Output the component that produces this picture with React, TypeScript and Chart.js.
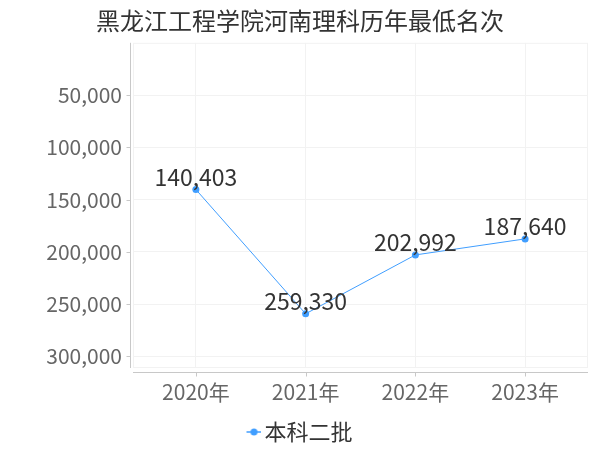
import React, { useEffect, useRef } from 'react';
import { Chart, registerables } from 'chart.js';

Chart.register(...registerables);

const title = '黑龙江工程学院河南理科历年最低名次';
const years = ['2020年', '2021年', '2022年', '2023年'];
const seriesName = '本科二批';
const ranks = [140403, 259330, 202992, 187640];
const yTicks = [50000, 100000, 150000, 200000, 250000, 300000];

const FONT = '"Noto Sans CJK SC", "Noto Sans", sans-serif';
const LINE = '#409eff';
const AXIS = '#c8c8c8';
const GRID = '#f2f2f2';

const fmt = (v: number) => v.toLocaleString('en-US');

// axis lines sit a few px off the plot area, ticks drawn by hand
const axesPlugin = {
  id: 'offsetAxes',
  beforeDatasetsDraw(chart: any) {
    const { ctx, chartArea: a, scales } = chart;
    ctx.save();
    ctx.strokeStyle = GRID;
    ctx.lineWidth = 1;
    ctx.strokeRect(a.left + 0.5, a.top + 0.5, a.right - a.left - 1, a.bottom - a.top - 1);
    ctx.strokeStyle = AXIS;
    ctx.beginPath();
    const yx = Math.round(a.left - 3) + 0.5;
    ctx.moveTo(yx, a.top);
    ctx.lineTo(yx, a.bottom);
    yTicks.forEach((t) => {
      const y = Math.round(scales.y.getPixelForValue(t)) + 0.5;
      ctx.moveTo(yx - 4, y);
      ctx.lineTo(yx, y);
    });
    const xy = Math.round(a.bottom + 4) + 0.5;
    ctx.moveTo(a.left, xy);
    ctx.lineTo(a.right, xy);
    years.forEach((_, i) => {
      const x = Math.round(scales.x.getPixelForValue(i)) + 0.5;
      ctx.moveTo(x, xy);
      ctx.lineTo(x, xy + 4);
    });
    ctx.stroke();
    ctx.restore();
  },
};

const labelPlugin = {
  id: 'pointLabels',
  afterDatasetsDraw(chart: any) {
    const { ctx } = chart;
    const meta = chart.getDatasetMeta(0);
    ctx.save();
    ctx.font = `23px ${FONT}`;
    ctx.fillStyle = '#333333';
    ctx.textAlign = 'center';
    ctx.textBaseline = 'alphabetic';
    meta.data.forEach((pt: any, i: number) => {
      ctx.fillText(fmt(ranks[i]), pt.x, pt.y - 4);
    });
    ctx.restore();
  },
};

// line + dot legend marker, drawn in the right part of the canvas
function legendIcon() {
  const c = document.createElement('canvas');
  c.width = 22;
  c.height = 8;
  const g = c.getContext('2d')!;
  g.strokeStyle = LINE;
  g.lineWidth = 1.5;
  g.beginPath();
  g.moveTo(7, 4);
  g.lineTo(22, 4);
  g.stroke();
  g.fillStyle = LINE;
  g.beginPath();
  g.arc(14.5, 4, 3.5, 0, Math.PI * 2);
  g.fill();
  return c;
}

const App: React.FC = () => {
  const canvasRef = useRef<HTMLCanvasElement>(null);

  useEffect(() => {
    if (!canvasRef.current) return;
    const icon = legendIcon();
    const chart = new Chart(canvasRef.current, {
      type: 'line',
      data: {
        datasets: [
          {
            label: seriesName,
            data: ranks.map((v, i) => ({ x: i, y: v })),
            borderColor: LINE,
            backgroundColor: LINE,
            borderWidth: 1,
            pointRadius: 3.5,
            pointBackgroundColor: LINE,
            pointBorderWidth: 0,
            pointStyle: 'circle',
          },
        ],
      },
      options: {
        responsive: false,
        animation: false,
        layout: { padding: 0 },
        scales: {
          x: {
            type: 'linear',
            min: -0.573,
            max: 3.573,
            afterBuildTicks: (s: any) => {
              s.ticks = years.map((_, i) => ({ value: i }));
            },
            afterFit: (s: any) => {
              s.height = 39;
            },
            border: { display: false },
            grid: { color: GRID, drawTicks: false },
            ticks: {
              color: '#666666',
              padding: 11,
              font: { family: FONT, size: 21 },
              callback: (v: any) => years[v] ?? '',
            },
          },
          y: {
            reverse: true,
            min: 0,
            max: Math.max(...ranks) * 1.2,
            afterBuildTicks: (s: any) => {
              s.ticks = yTicks.map((v) => ({ value: v }));
            },
            afterFit: (s: any) => {
              s.width = 133;
            },
            border: { display: false },
            grid: { color: GRID, drawTicks: false },
            ticks: {
              color: '#666666',
              padding: 11,
              font: { family: FONT, size: 21 },
              callback: (v: any) => fmt(Number(v)),
            },
          },
          // empty right gutter so title and legend stay centred on the canvas
          gutter: {
            type: 'linear',
            position: 'right',
            display: true,
            border: { display: false },
            grid: { drawOnChartArea: false, drawTicks: false },
            ticks: { display: false },
            afterFit: (s: any) => {
              s.width = 12;
            },
          },
        },
        plugins: {
          title: {
            display: true,
            text: title,
            color: '#333333',
            font: { family: FONT, size: 24, weight: 'normal' },
            padding: { top: 6, bottom: 8 },
          },
          legend: {
            position: 'bottom',
            maxHeight: 43,
            labels: {
              color: '#333333',
              font: { family: FONT, size: 22 },
              usePointStyle: true,
              pointStyle: icon as any,
              pointStyleWidth: 6,
              padding: 14,
              generateLabels: () => [
                {
                  text: seriesName,
                  pointStyle: icon as any,
                  fillStyle: LINE,
                  strokeStyle: LINE,
                  lineWidth: 0,
                  datasetIndex: 0,
                  fontColor: '#333333',
                } as any,
              ],
            },
          },
          tooltip: { enabled: false },
        },
      },
      plugins: [axesPlugin, labelPlugin],
    });
    return () => chart.destroy();
  }, []);

  return (
    <div style={{ position: 'fixed', left: 0, top: 0, width: 600, height: 450, background: '#fff' }}>
      <canvas ref={canvasRef} width={600} height={450} />
    </div>
  );
};

export default App;
